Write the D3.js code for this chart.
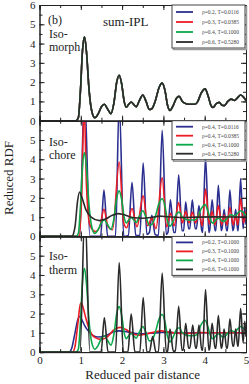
<!DOCTYPE html>
<html lang="en">

<head>
    <meta charset="UTF-8">
    <title>Reduced RDF - sum-IPL</title>
    <script src="https://cdn.jsdelivr.net/npm/d3@7"></script>

    <style>

        body {
            margin: 0;
            background: #fff;
        }

        svg text {
            font-family: "Liberation Serif", "DejaVu Serif", serif;
            fill: #222;
        }

        .axis path,
        .axis line {
            stroke: #222;
            stroke-width: 1;
        }

        .axis text {
            font-size: 11px;
        }

        .curve {
            fill: none;
            stroke-width: 1.6;
            stroke-linejoin: round;
        }

        .legend text {
            font-size: 5.5px;
            fill: #444;
        }

    </style>

</head>

<body>

    <svg width="249" height="384"></svg>

    <script>

        // ---- data (r, g(r)) ----

        // rho=0.4, T=0.1 ; the isomorph curves all collapse onto this one
        var isoCurve = [[0,0],[0.88,0],[0.94,0.15],[0.99,1.5],[1.04,3.6],[1.09,4.35],[1.14,3.5],[1.20,1.6],
            [1.27,0.45],[1.34,0.15],[1.42,0.35],[1.50,0.72],[1.57,0.85],[1.65,0.6],[1.73,0.36],[1.80,0.9],
            [1.87,2.0],[1.93,2.36],[1.99,1.9],[2.05,1.0],[2.10,0.7],[2.16,0.85],[2.22,0.97],[2.28,0.85],
            [2.34,0.72],[2.42,1.05],[2.50,1.33],[2.58,1.0],[2.66,0.58],[2.72,0.62],[2.80,1.0],[2.90,1.75],
            [2.97,1.95],[3.04,1.55],[3.10,0.8],[3.16,0.53],[3.24,0.8],[3.32,1.18],[3.38,1.26],[3.46,1.0],
            [3.55,0.88],[3.65,0.85],[3.75,0.85],[3.82,0.95],[3.92,1.45],[4.01,1.65],[4.08,1.3],[4.15,0.8],
            [4.20,0.69],[4.28,0.88],[4.35,0.95],[4.42,0.8],[4.47,0.78],[4.56,1.0],[4.64,1.12],[4.72,1.05],
            [4.80,1.2],[4.87,1.33],[4.93,1.25],[5.00,1.05]];

        // isochore rho=0.4
        var choreT0116 = [[0,0],[0.97,0],[1.09,7.5],[1.22,0],[1.48,0],[1.56,2.4],[1.65,0],[1.84,0],[1.93,7],
            [2.04,0],[2.15,0.05],[2.24,2.8],[2.33,0.05],[2.43,0.05],[2.51,3.8],[2.60,0.1],[2.66,0.2],[2.72,1.1],
            [2.80,0.1],[2.88,0.05],[2.97,5.5],[3.07,0.1],[3.11,0.2],[3.17,1.9],[3.25,0.2],[3.29,0.2],[3.37,3.2],
            [3.45,0.3],[3.49,0.3],[3.54,1.8],[3.61,0.4],[3.64,0.4],[3.70,1.9],[3.77,0.4],[3.80,0.4],[3.86,1.6],
            [3.93,0.3],[3.95,0.2],[4.02,4.1],[4.10,0.2],[4.12,0.3],[4.18,1.9],[4.25,0.3],[4.27,0.3],[4.33,2.65],
            [4.40,0.3],[4.42,0.4],[4.47,1.4],[4.53,0.3],[4.55,0.3],[4.61,2.4],[4.68,0.3],[4.70,0.4],[4.75,1.4],
            [4.80,0.3],[4.81,0.3],[4.87,3.0],[4.93,0.4],[4.97,1.5],[5.0,0.6]];

        var choreT0385 = [[0,0],[0.96,0],[1.02,2],[1.08,6.8],[1.14,2.5],[1.22,0.6],[1.35,0.25],[1.46,0.5],
            [1.56,1.4],[1.66,0.5],[1.77,0.35],[1.93,3.86],[2.04,0.7],[2.11,0.45],[2.24,1.45],[2.36,0.5],
            [2.51,2.1],[2.62,0.55],[2.72,0.95],[2.82,0.4],[2.97,3.05],[3.08,0.5],[3.17,1.2],[3.26,0.55],
            [3.37,1.75],[3.46,0.7],[3.54,1.3],[3.62,0.7],[3.70,1.25],[3.78,0.7],[3.86,1.2],[3.94,0.55],
            [4.02,2.45],[4.11,0.65],[4.18,1.3],[4.25,0.6],[4.33,1.6],[4.41,0.6],[4.47,1.1],[4.54,0.6],
            [4.61,1.5],[4.69,0.6],[4.75,1.1],[4.80,0.6],[4.87,1.95],[4.94,0.7],[5.0,1.3]];

        var choreT5280 = [[0,0],[0.78,0],[0.86,0.5],[0.92,1.8],[0.97,2.3],[1.03,2.0],[1.12,1.4],[1.25,1.0],
            [1.45,0.82],[1.60,0.9],[1.75,1.08],[1.90,1.18],[2.05,1.12],[2.25,0.98],[2.50,0.94],[2.75,1.0],
            [2.90,1.05],[3.10,1.02],[3.40,0.98],[3.80,1.0],[4.20,1.01],[5.0,1.0]];

        // isotherm T=0.1
        var thermR02 = [[0,0],[0.72,0],[0.78,0.2],[0.86,1.0],[0.93,1.7],[0.97,1.86],[1.02,1.7],[1.10,1.35],
            [1.20,1.05],[1.30,0.85],[1.43,0.78],[1.60,0.85],[1.80,1.05],[1.93,1.1],[2.10,1.06],[2.30,0.98],
            [2.50,0.95],[2.75,0.98],[2.95,1.02],[3.20,1.01],[3.50,0.99],[4.0,1.0],[5.0,1.0]];

        var thermR03 = [[0,0],[0.80,0],[0.86,0.3],[0.93,1.5],[0.98,2.4],[1.01,2.57],[1.05,2.35],[1.13,1.7],
            [1.22,1.1],[1.35,0.75],[1.50,0.66],[1.65,0.8],[1.80,1.15],[1.95,1.28],[2.08,1.18],[2.25,0.95],
            [2.40,0.88],[2.60,0.95],[2.80,1.05],[2.95,1.1],[3.10,1.05],[3.30,0.98],[3.60,0.97],[3.90,1.01],
            [4.30,1.0],[5.0,1.0]];

        var thermR06 = [[0,0],[0.98,0],[1.10,7.5],[1.22,0],[1.49,0],[1.57,1.78],[1.66,0],[1.84,0],[1.93,4.65],
            [2.03,0],[2.14,0],[2.22,1.97],[2.31,0],[2.43,0],[2.51,2.83],[2.60,0],[2.66,0],[2.74,0.8],[2.82,0],
            [2.88,0],[2.97,4.1],[3.07,0],[3.10,0.05],[3.16,1.2],[3.24,0.05],[3.29,0.05],[3.37,2.38],[3.45,0.1],
            [3.48,0.1],[3.54,1.5],[3.61,0.2],[3.64,0.2],[3.71,1.4],[3.78,0.2],[3.80,0.2],[3.86,1.4],[3.93,0.1],
            [3.95,0.1],[4.02,3.24],[4.10,0.1],[4.12,0.2],[4.18,1.5],[4.25,0.2],[4.27,0.2],[4.33,1.9],[4.40,0.2],
            [4.42,0.3],[4.47,1.2],[4.53,0.2],[4.55,0.2],[4.61,1.73],[4.68,0.3],[4.70,0.3],[4.75,1.2],[4.80,0.3],
            [4.81,0.3],[4.87,2.26],[4.93,0.5],[4.97,1.6],[5.0,0.8]];

        var morphLabels = ["\u03c1=0.2, T=0.0116", "\u03c1=0.3, T=0.0385", "\u03c1=0.4, T=0.1000", "\u03c1=0.6, T=0.5280"];
        var choreLabels = ["\u03c1=0.4, T=0.0116", "\u03c1=0.4, T=0.0385", "\u03c1=0.4, T=0.1000", "\u03c1=0.4, T=0.5280"];
        var thermLabels = ["\u03c1=0.2, T=0.1000", "\u03c1=0.3, T=0.1000", "\u03c1=0.4, T=0.1000", "\u03c1=0.6, T=0.1000"];

        var xTicks = [0, 1, 2, 3, 4, 5];
        var colors = ["#2b2f8f", "#ec1c24", "#0aa84a", "#2a2a2a"];

        var panels = [
            { name: ["(b)", "Iso-", "morph"], nameY: 19, series: [isoCurve, isoCurve, isoCurve, isoCurve], labels: morphLabels, yTicks: [0,1,2,3,4,5,6], rowGap: 10, rowTop: 7 },
            { name: ["Iso-", "chore"], nameY: 25, series: [choreT0116, choreT0385, isoCurve, choreT5280], labels: choreLabels, yTicks: [0,1,2,3,4,5], rowGap: 9, rowTop: 6 },
            { name: ["Iso-", "therm"], nameY: 24, series: [thermR02, thermR03, isoCurve, thermR06], labels: thermLabels, yTicks: [0,1,2,3,4,5], rowGap: 9, rowTop: 6 }
        ];

        // ---- layout ----

        var svg = d3.select("svg");
        var left = 39.5, right = 246, top0 = 5, ph = 115.7;

        var x = d3.scaleLinear().domain([0, 5]).range([left, right]);

        var line = d3.line()
            .x(function(d) { return x(d[0]); })
            .curve(d3.curveMonotoneX);

        panels.forEach(function(p, i) {

            var top = top0 + i * ph;
            var y = d3.scaleLinear().domain([0, 6]).range([top + ph, top]);
            line.y(function(d) { return y(d[1]); });

            svg.append("clipPath")
                .attr("id", "clip" + i)
                .append("rect")
                .attr("x", left).attr("y", top)
                .attr("width", right - left).attr("height", ph);

            var g = svg.append("g").attr("clip-path", "url(#clip" + i + ")");

            g.selectAll("path")
                .data(p.series)
                .enter().append("path")
                .attr("class", "curve")
                .attr("stroke", function(d, k) { return colors[k]; })
                .attr("d", line);

            // axes, ticks pointing in on every side
            var minor = d3.range(0, 6.01, 0.5);
            var xMinor = d3.range(0, 5.01, 0.5);

            svg.append("g").attr("class", "axis")
                .attr("transform", "translate(" + left + ",0)")
                .call(d3.axisLeft(y).tickValues(minor).tickSize(-3).tickFormat(""));
            svg.append("g").attr("class", "axis")
                .attr("transform", "translate(" + left + ",0)")
                .call(d3.axisLeft(y).tickValues([0,1,2,3,4,5,6]).tickSize(-5).tickPadding(4)
                    .tickFormat(function(d) { return p.yTicks.indexOf(d) >= 0 ? d : ""; }));
            svg.append("g").attr("class", "axis")
                .attr("transform", "translate(" + right + ",0)")
                .call(d3.axisRight(y).tickValues(minor).tickSize(-3).tickFormat(""));
            svg.append("g").attr("class", "axis")
                .attr("transform", "translate(" + right + ",0)")
                .call(d3.axisRight(y).tickValues([0,1,2,3,4,5,6]).tickSize(-5).tickFormat(""));

            svg.append("g").attr("class", "axis")
                .attr("transform", "translate(0," + top + ")")
                .call(d3.axisTop(x).tickValues(xMinor).tickSize(-3).tickFormat(""));
            svg.append("g").attr("class", "axis")
                .attr("transform", "translate(0," + top + ")")
                .call(d3.axisTop(x).tickValues(xTicks).tickSize(-5).tickFormat(""));
            svg.append("g").attr("class", "axis")
                .attr("transform", "translate(0," + (top + ph) + ")")
                .call(d3.axisBottom(x).tickValues(xMinor).tickSize(-3).tickFormat(""));
            svg.append("g").attr("class", "axis")
                .attr("transform", "translate(0," + (top + ph) + ")")
                .call(d3.axisBottom(x).tickValues(xTicks).tickSize(-5).tickPadding(4)
                    .tickFormat(i == 2 ? d3.format("d") : ""));

            // panel name, one text block with a line per word
            svg.append("text")
                .attr("font-size", 12)
                .selectAll("tspan")
                .data(p.name)
                .enter().append("tspan")
                .attr("x", function(d) { return d == "(b)" ? 48 : 49; })
                .attr("y", function(d, k) { return top + p.nameY + k * 13.5; })
                .text(function(d) { return d; });

            // legend
            var lg = svg.append("g").attr("class", "legend");
            var boxH = p.rowTop + p.rowGap * 3 + 6;
            lg.append("rect")
                .attr("x", 173.5).attr("y", top + 1.5)
                .attr("width", 73).attr("height", boxH)
                .attr("fill", "none").attr("stroke", "#999").attr("stroke-width", 1.5);
            lg.append("rect")
                .attr("x", 172).attr("y", top)
                .attr("width", 73).attr("height", boxH)
                .attr("fill", "#fff").attr("stroke", "#444").attr("stroke-width", 1);

            p.labels.forEach(function(t, k) {
                var ry = top + p.rowTop + k * p.rowGap;
                lg.append("line")
                    .attr("x1", 176).attr("x2", 193)
                    .attr("y1", ry).attr("y2", ry)
                    .attr("stroke", colors[k]).attr("stroke-width", 1.8);
                lg.append("text")
                    .attr("x", 202).attr("y", ry + 2)
                    .text(t);
            });
        });

        svg.append("text")
            .attr("x", 103).attr("y", 26)
            .attr("font-size", 13)
            .text("sum-IPL");

        svg.append("text")
            .attr("transform", "translate(13,178) rotate(-90)")
            .attr("text-anchor", "middle")
            .attr("font-size", 13)
            .text("Reduced RDF");

        svg.append("text")
            .attr("x", (left + right) / 2).attr("y", 379)
            .attr("text-anchor", "middle")
            .attr("font-size", 13)
            .text("Reduced pair distance");

    </script>

</body>

</html>
